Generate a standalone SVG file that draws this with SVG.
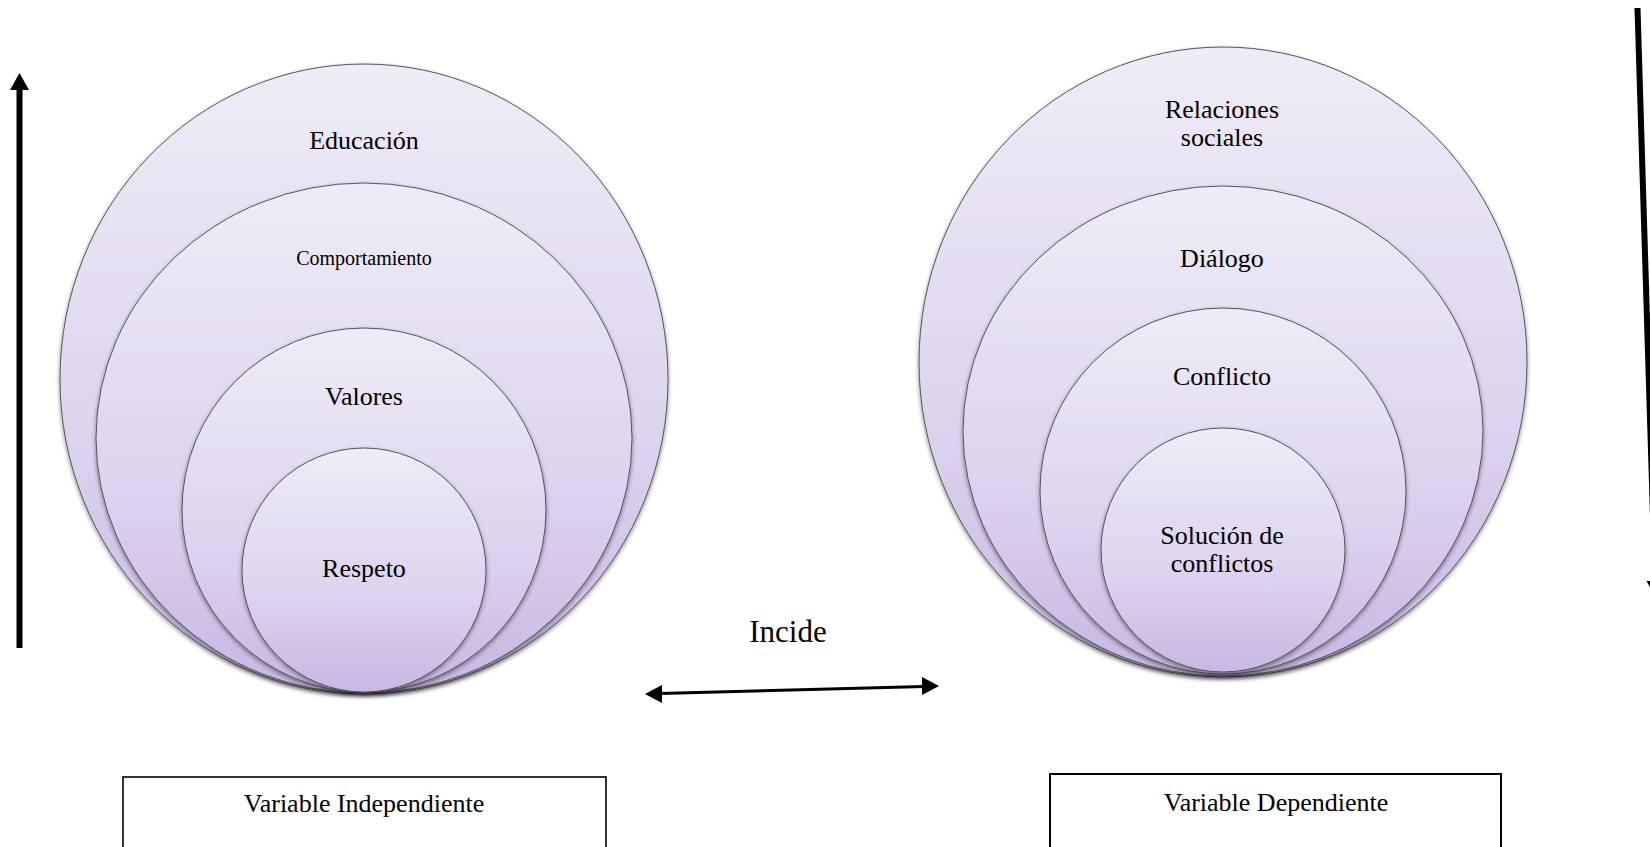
<svg xmlns="http://www.w3.org/2000/svg" width="1650" height="847" viewBox="0 0 1650 847">
  <defs>
    <linearGradient id="lav" x1="0" y1="0" x2="0" y2="1">
      <stop offset="0" stop-color="#EFECF7"/>
      <stop offset="0.6" stop-color="#DDD3EE"/>
      <stop offset="1" stop-color="#C8B7E3"/>
    </linearGradient>
    <filter id="shadow" x="-10%" y="-10%" width="120%" height="125%">
      <feDropShadow dx="0" dy="2" stdDeviation="2" flood-color="#000" flood-opacity="0.45"/>
    </filter>
  </defs>
  <style>
    .c { fill: url(#lav); stroke: #555555; stroke-width: 1; filter: url(#shadow); }
    .t { font-family: 'Liberation Serif', 'DejaVu Serif', 'Noto Serif', serif; font-size: 26px; fill: #000; text-anchor: middle; }
    .box { fill: #ffffff; stroke: #000; stroke-width: 1.6; }
    .ln { stroke: #000; fill: none; }
  </style>
  <rect width="1650" height="847" fill="#ffffff"/>

  <g id="independiente">
    <g id="educacion">
      <ellipse class="c" cx="364" cy="379" rx="304" ry="315"/>
      <text class="t" x="364" y="149" font-family="Liberation Serif, serif">Educación</text>
    </g>
    <g id="comportamiento">
      <ellipse class="c" cx="364" cy="438" rx="268" ry="255"/>
      <text class="t" x="364" y="265" style="font-size:20px">Comportamiento</text>
    </g>
    <g id="valores">
      <circle class="c" cx="364" cy="510" r="182"/>
      <text class="t" x="364" y="405">Valores</text>
    </g>
    <g id="respeto">
      <circle class="c" cx="364" cy="570" r="122"/>
      <text class="t" x="364" y="577">Respeto</text>
    </g>
  </g>

  <g id="dependiente">
    <g id="relaciones">
      <ellipse class="c" cx="1223" cy="362" rx="304" ry="315"/>
      <text class="t" x="1222" y="118">Relaciones</text>
      <text class="t" x="1222" y="146">sociales</text>
    </g>
    <g id="dialogo">
      <ellipse class="c" cx="1223" cy="431" rx="260" ry="245"/>
      <text class="t" x="1222" y="267">Diálogo</text>
    </g>
    <g id="conflicto">
      <circle class="c" cx="1223" cy="491" r="183"/>
      <text class="t" x="1222" y="385">Conflicto</text>
    </g>
    <g id="solucion">
      <circle class="c" cx="1223" cy="550" r="122"/>
      <text class="t" x="1222" y="544">Solución de</text>
      <text class="t" x="1222" y="572">conflictos</text>
    </g>
  </g>

  <g id="connectors">
    <line class="ln" x1="19.5" y1="648" x2="19.5" y2="88" stroke-width="6"/>
    <polygon points="19.5,73 10,90 29,90" fill="#000"/>
    <line class="ln" x1="1637.5" y1="8" x2="1655" y2="582" stroke-width="6"/>
    <polygon points="1656,598 1646.5,581 1665.5,581" fill="#000"/>
    <line class="ln" x1="660" y1="693.5" x2="924" y2="686.5" stroke-width="3"/>
    <polygon points="645,694 662,685 662,703" fill="#000"/>
    <polygon points="939,686 922,677 922,695" fill="#000"/>
  </g>

  <g id="incide">
    <text class="t" x="788" y="642" style="font-size:31px">Incide</text>
  </g>

  <g id="box-independiente">
    <rect class="box" x="123" y="777" width="483" height="110"/>
    <text class="t" x="364" y="812">Variable Independiente</text>
  </g>
  <g id="box-dependiente">
    <rect class="box" x="1050" y="774" width="451" height="110" style="stroke-width:2"/>
    <text class="t" x="1276" y="811">Variable Dependiente</text>
  </g>
</svg>
